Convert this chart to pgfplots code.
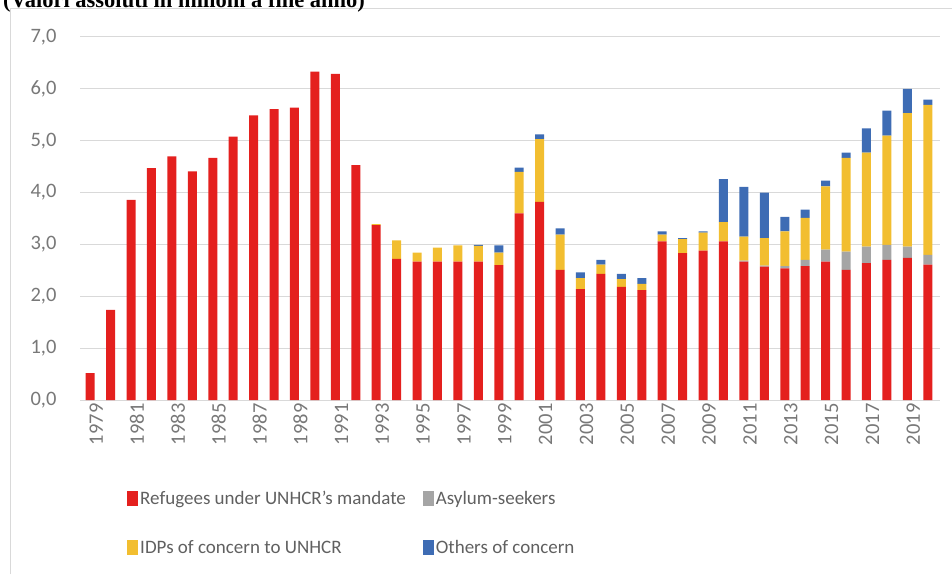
\documentclass[border=0pt]{standalone}
\usepackage{pgfplots}
\pgfplotsset{compat=1.18}
\usepackage{pgfplotstable}
\usepackage{fontspec}
\setmainfont{Carlito}
\newfontfamily\titlefont{Liberation Serif}
\definecolor{cRef}{RGB}{228,32,30}
\definecolor{cAsy}{RGB}{165,165,165}
\definecolor{cIdp}{RGB}{242,190,48}
\definecolor{cOth}{RGB}{62,108,180}
\definecolor{gridgray}{RGB}{217,217,217}
\definecolor{labgray}{RGB}{120,120,120}

\pgfplotstableread{
year ref asy idp oth
1979 0.52 0 0 0
1980 1.74 0 0 0
1981 3.86 0 0 0
1982 4.47 0 0 0
1983 4.70 0 0 0
1984 4.41 0 0 0
1985 4.67 0 0 0
1986 5.08 0 0 0
1987 5.49 0 0 0
1988 5.61 0 0 0
1989 5.64 0 0 0
1990 6.33 0 0 0
1991 6.29 0 0 0
1992 4.53 0 0 0
1993 3.37 0 0.02 0
1994 2.72 0 0.36 0
1995 2.67 0 0.17 0
1996 2.67 0 0.27 0
1997 2.67 0 0.31 0
1998 2.67 0 0.30 0.02
1999 2.60 0 0.24 0.14
2000 3.60 0 0.80 0.08
2001 3.82 0 1.21 0.09
2002 2.51 0 0.68 0.12
2003 2.14 0 0.21 0.11
2004 2.43 0 0.18 0.09
2005 2.18 0 0.15 0.10
2006 2.12 0 0.12 0.11
2007 3.06 0 0.13 0.06
2008 2.83 0 0.27 0.02
2009 2.88 0 0.35 0.02
2010 3.06 0 0.37 0.83
2011 2.67 0.02 0.46 0.96
2012 2.57 0.02 0.53 0.88
2013 2.54 0.04 0.67 0.28
2014 2.58 0.12 0.81 0.16
2015 2.67 0.23 1.22 0.11
2016 2.51 0.35 1.81 0.10
2017 2.64 0.32 1.81 0.47
2018 2.70 0.29 2.11 0.48
2019 2.74 0.22 2.57 0.47
2020 2.61 0.19 2.89 0.10
}\datatable

\begin{document}
\begin{tikzpicture}
\useasboundingbox (0pt,0pt) rectangle (952pt,574pt);
\draw[gridgray, line width=1pt] (10pt,0pt) -- (10pt,565pt) -- (952pt,565pt);
\node[anchor=base west, inner sep=0pt, font=\titlefont\bfseries\fontsize{22.5}{26}\selectfont] at (3pt,566pt) {(Valori assoluti in milioni a fine anno)};
\begin{axis}[
  at={(80pt,174pt)}, anchor=south west,
  scale only axis, width=860pt, height=363pt,
  xmin=1978.5, xmax=2020.6, ymin=0, ymax=7,
  ytick={0,1,...,7},
  xtick={1979,1981,...,2019},
  ymajorgrids, grid style={draw=gridgray, line width=1pt},
  axis x line*=bottom, axis y line*=left,
  x axis line style={draw=gridgray, line width=1pt, -},
  y axis line style={draw=none},
  major tick length=0pt,
  /pgf/number format/assume math mode=true,
  x tick label style={rotate=90, anchor=east, font=\fontsize{20.5}{24}\selectfont, text=labgray, yshift=-6pt, /pgf/number format/1000 sep={}},
  y tick label style={font=\fontsize{20.5}{24}\selectfont, text=labgray, xshift=-20pt, /pgf/number format/.cd, fixed, fixed zerofill, precision=1, use comma},
  ybar stacked, bar width=9pt,
  legend columns=2,
  legend cell align=left,
  legend image code/.code={\fill[#1] (0pt,-7pt) rectangle (11pt,8pt);},
  legend style={at={(axis description cs:0.0547,-0.246)}, anchor=north west, draw=none, fill=none, inner sep=0pt,
    font=\fontsize{19}{22}\selectfont, text=labgray!80!black, row sep=30pt,
    /tikz/every even column/.append style={column sep=15pt}},
]
\addplot+[fill=cRef, draw=none] table[x=year, y=ref] {\datatable};
\addplot+[fill=cAsy, draw=none] table[x=year, y=asy] {\datatable};
\addplot+[fill=cIdp, draw=none] table[x=year, y=idp] {\datatable};
\addplot+[fill=cOth, draw=none] table[x=year, y=oth] {\datatable};
\legend{Refugees under UNHCR's mandate, Asylum-seekers, IDPs of concern to UNHCR, Others of concern}
\end{axis}
\end{tikzpicture}
\end{document}
